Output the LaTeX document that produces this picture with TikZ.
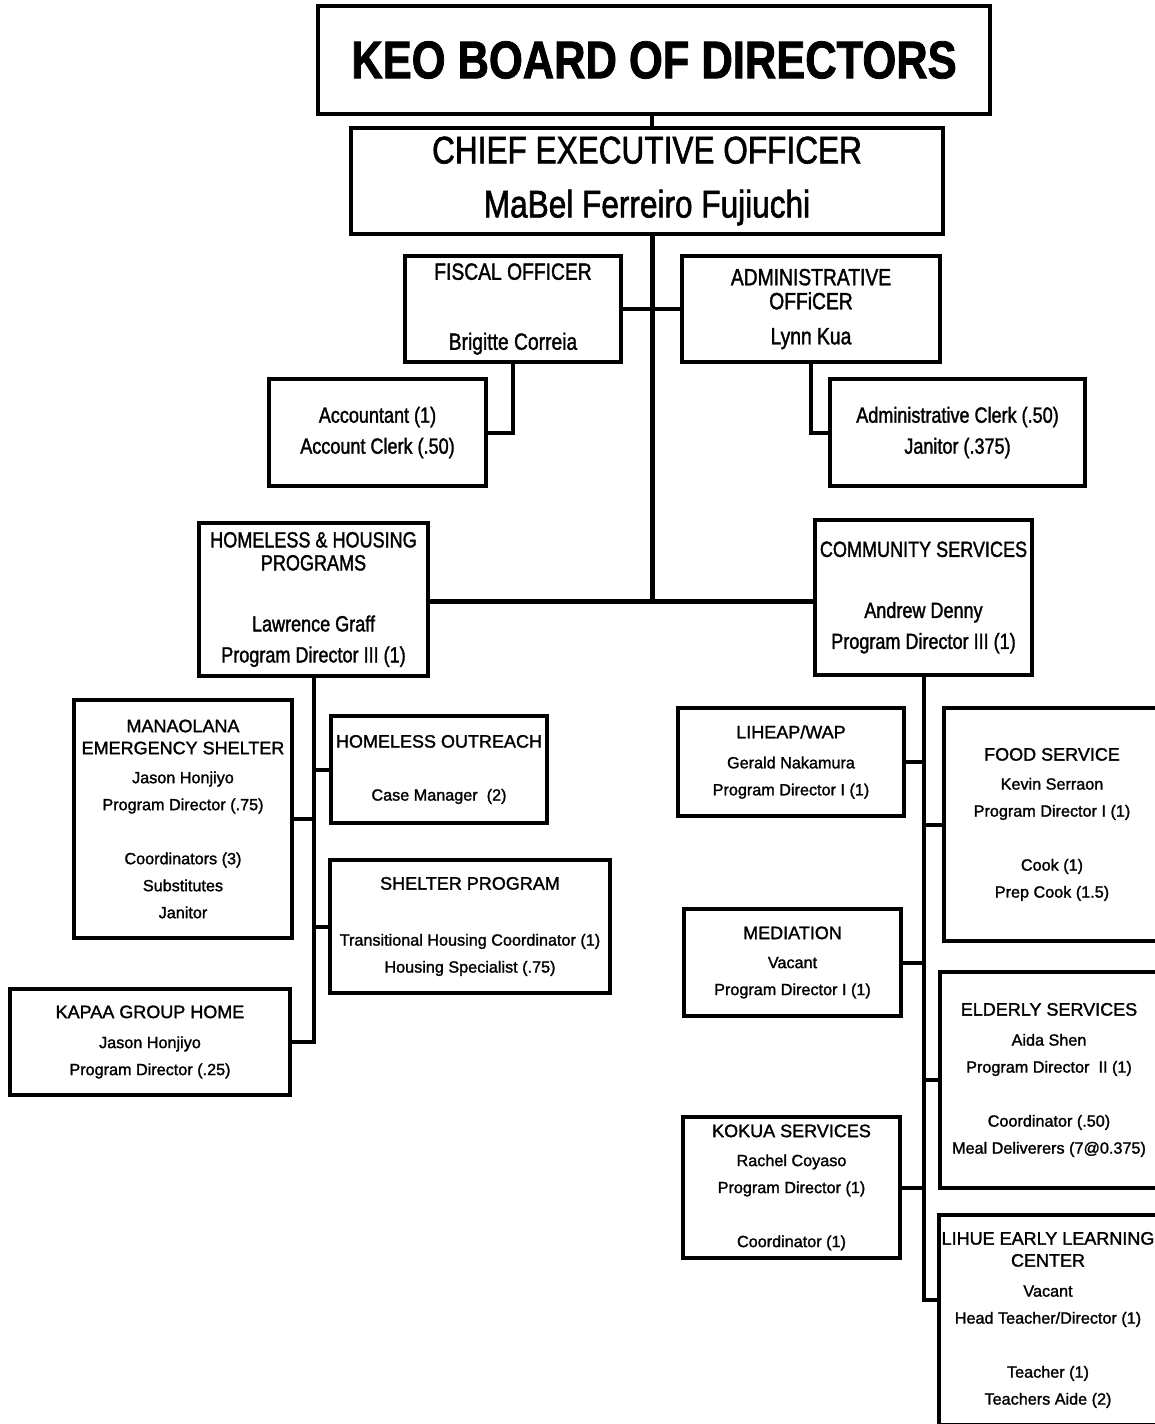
\documentclass[tikz,border=0pt]{standalone}
\usepackage{fontspec}
\setmainfont[FakeBold=1.5]{Liberation Sans}
\newfontfamily\narrowfont[FakeStretch=0.82,FakeBold=1.5]{Liberation Sans}
\newcommand\topfont{\narrowfont\bfseries\fontsize{53}{60}\selectfont}
\newcommand\ceofont{\narrowfont\fontsize{38.5}{54}\selectfont}
\newcommand\offfont{\narrowfont\fontsize{23.5}{31}\selectfont}
\newcommand\midfont{\narrowfont\fontsize{22}{31}\selectfont}
\newcommand\lowfont{\fontsize{16.2}{27}\selectfont}
\newcommand\lowhead{\fontsize{18}{22}\selectfont}
\tikzset{
  orgbox/.style={draw, line width=4pt, inner sep=0pt, align=center},
  orgline/.style={line width=4pt},
}
\begin{document}
\begin{tikzpicture}[x=1pt,y=-1pt]
    \useasboundingbox (0,0) rectangle (1155,1424);
    \clip (0,0) rectangle (1155,1424);
    % top levels
    \node[orgbox,font=\topfont,minimum width=672pt,minimum height=108pt] (board) at (654,60) {KEO BOARD OF DIRECTORS};
    \node[orgbox,font=\ceofont,minimum width=592pt,minimum height=106pt] (ceo) at (647,181) {CHIEF EXECUTIVE OFFICER\\MaBel Ferreiro Fujiuchi};
    \node[orgbox,font=\offfont,minimum width=216pt,minimum height=106pt] (fiscal) at (513,309) {FISCAL OFFICER\\[39pt]Brigitte Correia};
    \node[orgbox,font=\offfont,minimum width=258pt,minimum height=106pt] (admin) at (811,309) {ADMINISTRATIVE\\[-7pt]OFFiCER\\[4pt]Lynn Kua};
    \node[orgbox,font=\midfont,minimum width=217pt,minimum height=107pt] (acct) at (377.5,432.5) {Accountant (1)\\Account Clerk (.50)};
    \node[orgbox,font=\midfont,minimum width=255pt,minimum height=107pt] (clerk) at (957.5,432.5) {Administrative Clerk (.50)\\Janitor (.375)};
    \node[orgbox,font=\midfont,minimum width=229pt,minimum height=153pt] (hhp) at (313.5,599.5) {HOMELESS \& HOUSING\\[-8pt]PROGRAMS\\[30pt]Lawrence Graff\\Program Director III (1)};
    \node[orgbox,font=\midfont,minimum width=217pt,minimum height=155pt] (comm) at (923.5,597.5) {COMMUNITY SERVICES\\[30pt]Andrew Denny\\Program Director III (1)};
    % homeless & housing programs
    \node[orgbox,font=\lowfont,minimum width=218pt,minimum height=238pt] (mana) at (183,819) {{\lowhead MANAOLANA}\\[-5pt]{\lowhead EMERGENCY SHELTER}\\[2pt]Jason Honjiyo\\Program Director (.75)\\[27pt]Coordinators (3)\\Substitutes\\Janitor};
    \node[orgbox,font=\lowfont,minimum width=216pt,minimum height=107pt] (outreach) at (439,769.5) {{\lowhead HOMELESS OUTREACH}\\[26pt]Case Manager\ \ (2)};
    \node[orgbox,font=\lowfont,minimum width=280pt,minimum height=133pt] (shelter) at (470,926.5) {{\lowhead SHELTER PROGRAM}\\[29pt]Transitional Housing Coordinator (1)\\Housing Specialist (.75)};
    \node[orgbox,font=\lowfont,minimum width=280pt,minimum height=106pt] (kapaa) at (150,1042) {{\lowhead KAPAA GROUP HOME}\\[3pt]Jason Honjiyo\\Program Director (.25)};
    % community services
    \node[orgbox,font=\lowfont,minimum width=226pt,minimum height=108pt] (liheap) at (791,762) {{\lowhead LIHEAP/WAP}\\[3pt]Gerald Nakamura\\Program Director I (1)};
    \node[orgbox,font=\lowfont,minimum width=216pt,minimum height=233pt] (food) at (1052,824.5) {{\lowhead FOOD SERVICE}\\[2pt]Kevin Serraon\\Program Director I (1)\\[27pt]Cook (1)\\Prep Cook (1.5)};
    \node[orgbox,font=\lowfont,minimum width=217pt,minimum height=107pt] (mediation) at (792.5,962.5) {{\lowhead MEDIATION}\\[2pt]Vacant\\Program Director I (1)};
    \node[orgbox,font=\lowfont,minimum width=218pt,minimum height=216pt] (elderly) at (1049,1080) {{\lowhead ELDERLY SERVICES}\\[3pt]Aida Shen\\Program Director\ \ II (1)\\[27pt]Coordinator (.50)\\Meal Deliverers (7@0.375)};
    \node[orgbox,font=\lowfont,minimum width=217pt,minimum height=141pt] (kokua) at (791.5,1187.5) {{\lowhead KOKUA SERVICES}\\[2pt]Rachel Coyaso\\Program Director (1)\\[27pt]Coordinator (1)};
    \node[orgbox,font=\lowfont,minimum width=218pt,minimum height=210pt] (lihue) at (1048,1320) {{\lowhead LIHUE EARLY LEARNING}\\[-5pt]{\lowhead CENTER}\\[3pt]Vacant\\Head Teacher/Director (1)\\[27pt]Teacher (1)\\Teachers Aide (2)};
    % connectors
    \coordinate (spine) at (652,601);
    \coordinate (lihuec) at ([yshift=20pt]lihue.west);
    \draw[orgline] (board.south -| spine) -- (ceo.north -| spine);
    \draw[orgline,line width=5pt] (ceo.south -| spine) -- (spine);
    \draw[orgline] (fiscal.east) -- (admin.west);
    \draw[orgline] (fiscal.south) |- (acct.east);
    \draw[orgline] (admin.south) |- (clerk.west);
    \draw[orgline,line width=5pt] (spine -| hhp.east) -- (spine -| comm.west);
    \draw[orgline] (hhp.south) |- (kapaa.east);
    \foreach \b/\a in {mana/east,outreach/west,shelter/west}
      \draw[orgline] (\b.\a) -- (\b.\a -| hhp.south);
    \draw[orgline] (comm.south) |- (lihuec);
    \foreach \b/\a in {liheap/east,food/west,mediation/east,elderly/west,kokua/east}
      \draw[orgline] (\b.\a) -- (\b.\a -| comm.south);
\end{tikzpicture}
\end{document}
